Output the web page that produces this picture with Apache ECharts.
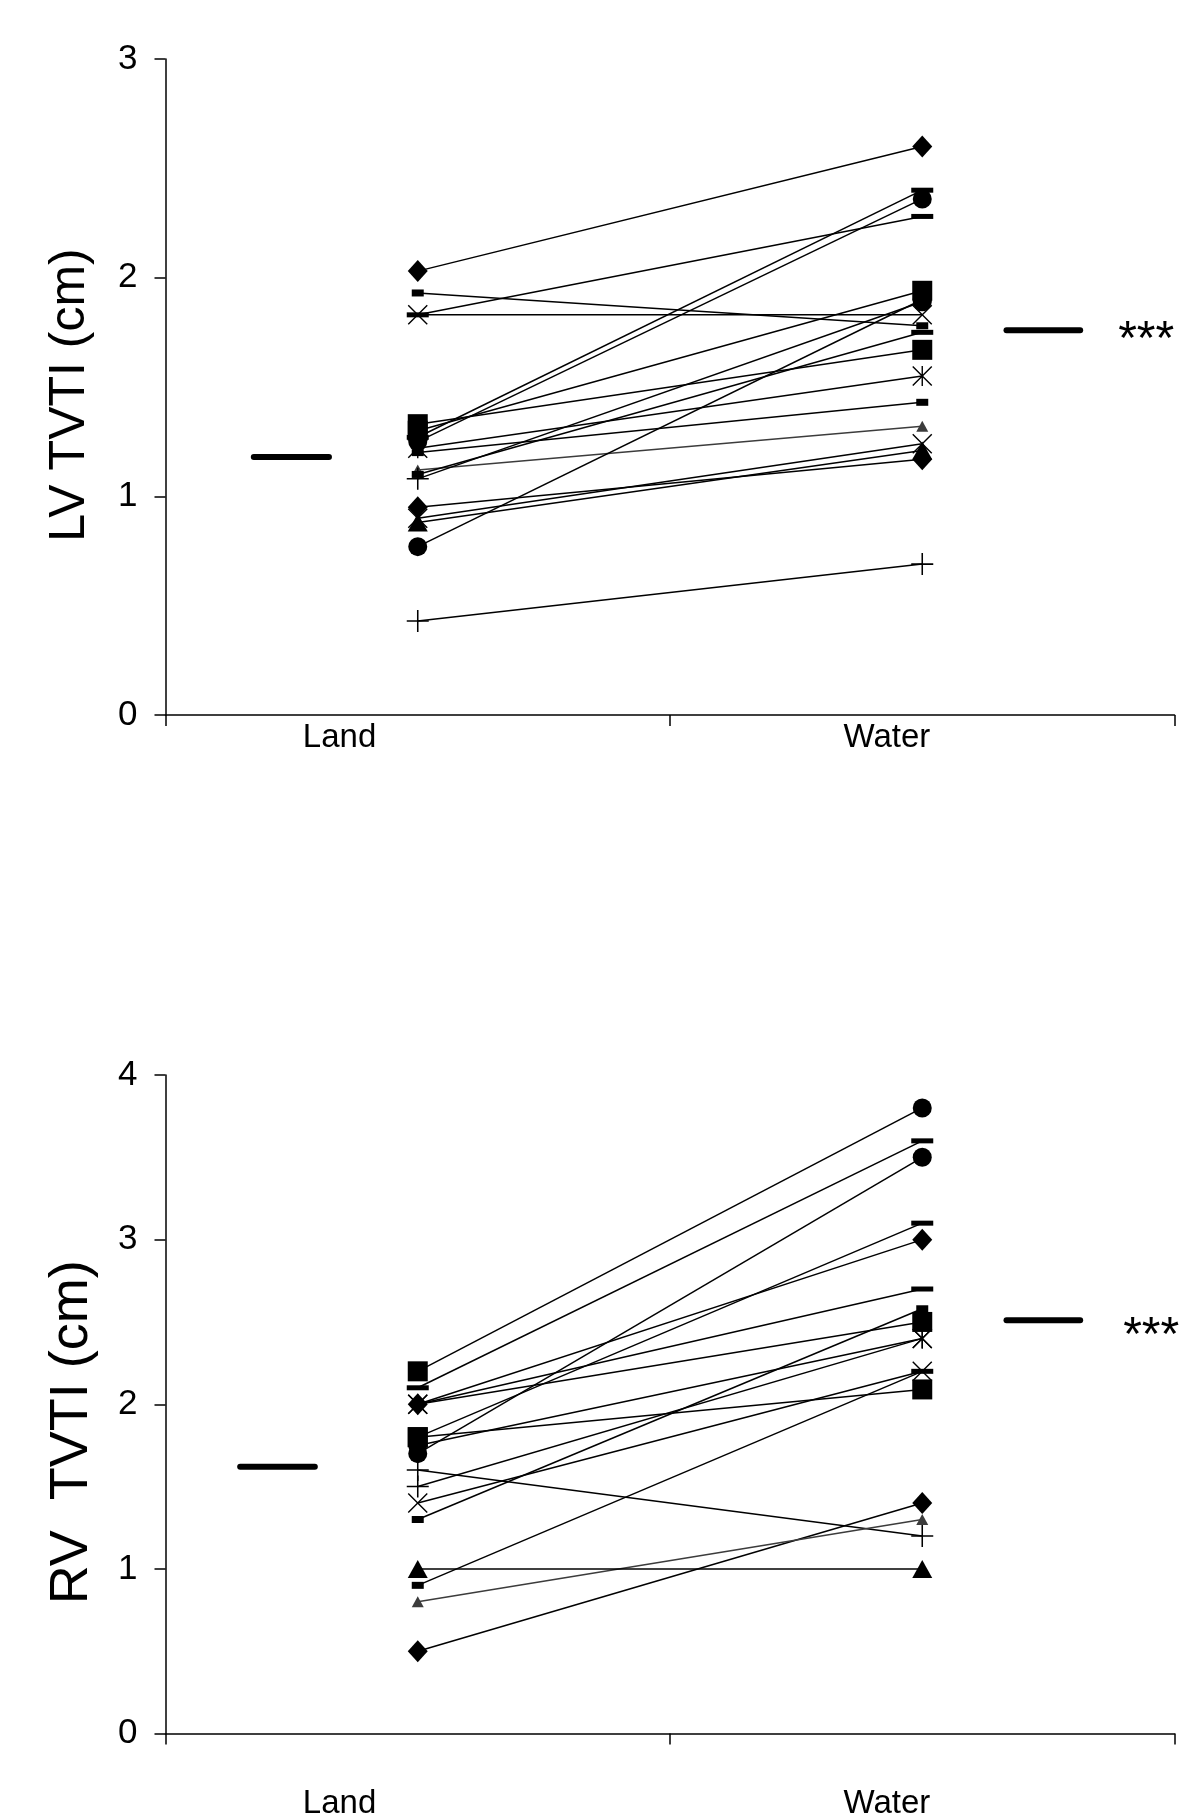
<!DOCTYPE html>
<html><head><meta charset="utf-8">
<script src="https://cdn.jsdelivr.net/npm/echarts@6/dist/echarts.min.js"></script>
<style>html,body{margin:0;padding:0;background:#fff}#c{width:1200px;height:1815px}</style>
</head><body><div id="c"></div><script>
// ---------- data ----------
const categories = ['Land', 'Water'];
const lvTicks = [0, 1, 2, 3];
const rvTicks = [0, 1, 2, 3, 4];
const lvTitle = 'LV TVTI (cm)';
const rvTitle = 'RV  TVTI (cm)';
const sigText = '***';

const lvLand  = [2.03, 1.93, 1.83, 1.83, 1.27, 1.25, 1.30, 1.33, 1.22, 1.20, 1.12, 1.10, 1.08, 0.95, 0.90, 0.88, 0.77, 0.43];
const lvWater = [2.60, 1.78, 1.83, 2.28, 2.40, 2.36, 1.94, 1.67, 1.55, 1.43, 1.32, 1.75, 1.89, 1.17, 1.24, 1.21, 1.90, 0.69];
const lvMean  = [1.18, 1.76];

const rvLand  = [2.20, 2.10, 1.70, 1.80, 2.00, 2.00, 1.30, 2.00, 1.75, 1.40, 0.90, 1.80, 1.60, 0.50, 0.80, 1.00, 1.50];
const rvWater = [3.80, 3.60, 3.50, 3.10, 3.00, 2.70, 2.58, 2.50, 2.40, 2.20, 2.20, 2.09, 1.20, 1.40, 1.30, 1.00, 2.40];
const rvMean  = [1.62, 2.51];

// ---------- marker styles ----------
const lvLandSym  = ['diamond','sbar','x','bar','bar','circle','square','square','star','sbar','gtri','sbar','plus','diamond','x','triangle','circle','plus'];
const lvWaterSym = ['diamond','sbar','x','bar','bar','circle','square','square','star','sbar','gtri','bar','circle','diamond','x','triangle','circle','plus'];
const rvLandSym  = ['square','bar','circle','square','diamond','x','sbar','star','circle','x','sbar','square','plus','diamond','gtri','triangle','plus'];
const rvWaterSym = ['circle','bar','circle','bar','diamond','bar','sbar','square','star','x','bar','square','plus','diamond','gtri','triangle','star'];

const FONT = '"Liberation Sans", Arial, Helvetica, sans-serif';
const X_PATH = 'path://M0,1 L1,0 L10,9 L19,0 L20,1 L11,10 L20,19 L19,20 L10,11 L1,20 L0,19 L9,10 Z';
const PLUS_PATH = 'path://M9.3,0 H10.7 V9.3 H20 V10.7 H10.7 V20 H9.3 V10.7 H0 V9.3 H9.3 Z';
const STAR_PATH = 'path://M0,1 L1,0 L10,9 L19,0 L20,1 L11,10 L20,19 L19,20 L10,11 L1,20 L0,19 L9,10 Z M9.3,0 H10.7 V20 H9.3 Z';
const SYM = {
  diamond:  {symbol: 'diamond', size: [20, 22]},
  square:   {symbol: 'rect', size: [20, 20]},
  circle:   {symbol: 'circle', size: 19},
  triangle: {symbol: 'triangle', size: [20, 18]},
  gtri:     {symbol: 'triangle', size: [12, 11], color: '#3c3c3c'},
  x:        {symbol: X_PATH, size: [20, 20]},
  star:     {symbol: STAR_PATH, size: [20, 20]},
  plus:     {symbol: PLUS_PATH, size: [22, 22]},
  bar:      {symbol: 'rect', size: [22, 5]},
  sbar:     {symbol: 'rect', size: [12, 7]}
};

function pt(x, y, key) {
  const s = SYM[key];
  return {value: [x, y], symbol: s.symbol, symbolSize: s.size,
          itemStyle: {color: s.color || '#000'}};
}

function subjectSeries(gi, land, water, lsym, wsym) {
  return land.map((v, i) => {
    const gray = lsym[i] === 'gtri';
    return {
      type: 'line', xAxisIndex: gi, yAxisIndex: gi, silent: true,
      data: [pt(0 + 0.5, v, lsym[i]), pt(1 + 0.5, water[i], wsym[i])],
      lineStyle: {color: gray ? '#3c3c3c' : '#000', width: 1.5},
      showSymbol: true, z: 3
    };
  });
}

function meanSeries(gi, mean, leftExt, labelDist, labelOff) {
  return [
    {type: 'line', xAxisIndex: gi, yAxisIndex: gi, silent: true, symbol: 'none', z: 4,
     data: [[leftExt[0], mean[0]], [leftExt[1], mean[0]]],
     lineStyle: {color: '#000', width: 6, cap: 'round'}},
    {type: 'line', xAxisIndex: gi, yAxisIndex: gi, silent: true, symbol: 'none', z: 4,
     data: [[1.667, mean[1]], [1.813, mean[1]]],
     lineStyle: {color: '#000', width: 6, cap: 'round'},
     endLabel: {show: true, formatter: sigText, distance: labelDist, color: '#000',
                fontSize: 48, fontFamily: FONT, offset: [0, labelOff]}}
  ];
}

function yAxis(gi, ticks, title, titleSize, titleShift, gap) {
  return {
    type: 'value', gridIndex: gi, min: ticks[0], max: ticks[ticks.length - 1], interval: 1,
    axisLine: {show: true, lineStyle: {color: '#000', width: 1.5}},
    axisTick: {show: true, inside: false, length: 11, lineStyle: {color: '#000', width: 1.5}},
    axisLabel: {fontSize: 35, color: '#000', margin: 28, fontFamily: FONT},
    splitLine: {show: false},
    name: title, nameLocation: 'middle', nameRotate: 90, nameGap: gap,
    nameTextStyle: {fontSize: titleSize, color: '#000', fontFamily: FONT,
                    padding: [0, titleShift, 0, 0]}
  };
}

function xAxis(gi, labelMargin) {
  return {
    type: 'value', gridIndex: gi, min: 0, max: 2, interval: 1,
    axisLine: {show: true, onZero: false, lineStyle: {color: '#000', width: 1.5}},
    axisTick: {show: true, inside: false, length: 11, customValues: [0, 1, 2],
               lineStyle: {color: '#000', width: 1.5}},
    axisLabel: {show: true, customValues: [0.345, 1.43], fontSize: 33, color: '#000',
                fontFamily: FONT, margin: labelMargin,
                formatter: v => categories[v < 1 ? 0 : 1]},
    splitLine: {show: false}
  };
}

const option = {
  animation: false,
  backgroundColor: '#fff',
  grid: [
    {left: 165.5, top: 59, width: 1009, height: 656, outerBoundsMode: 'none', containLabel: false},
    {left: 165.5, top: 1075, width: 1009, height: 658.5, outerBoundsMode: 'none', containLabel: false}
  ],
  xAxis: [xAxis(0, 6), xAxis(1, 54)],
  yAxis: [yAxis(0, lvTicks, lvTitle, 50, 16, 70), yAxis(1, rvTicks, rvTitle, 54, 56, 66)],
  series: [
    ...subjectSeries(0, lvLand, lvWater, lvLandSym, lvWaterSym),
    ...subjectSeries(1, rvLand, rvWater, rvLandSym, rvWaterSym),
    ...meanSeries(0, lvMean, [0.175, 0.324], 38, 11),
    ...meanSeries(1, rvMean, [0.148, 0.296], 43, 16)
  ]
};

const chart = echarts.init(document.getElementById('c'), null, {renderer: 'canvas'});
chart.setOption(option);
</script></body></html>
